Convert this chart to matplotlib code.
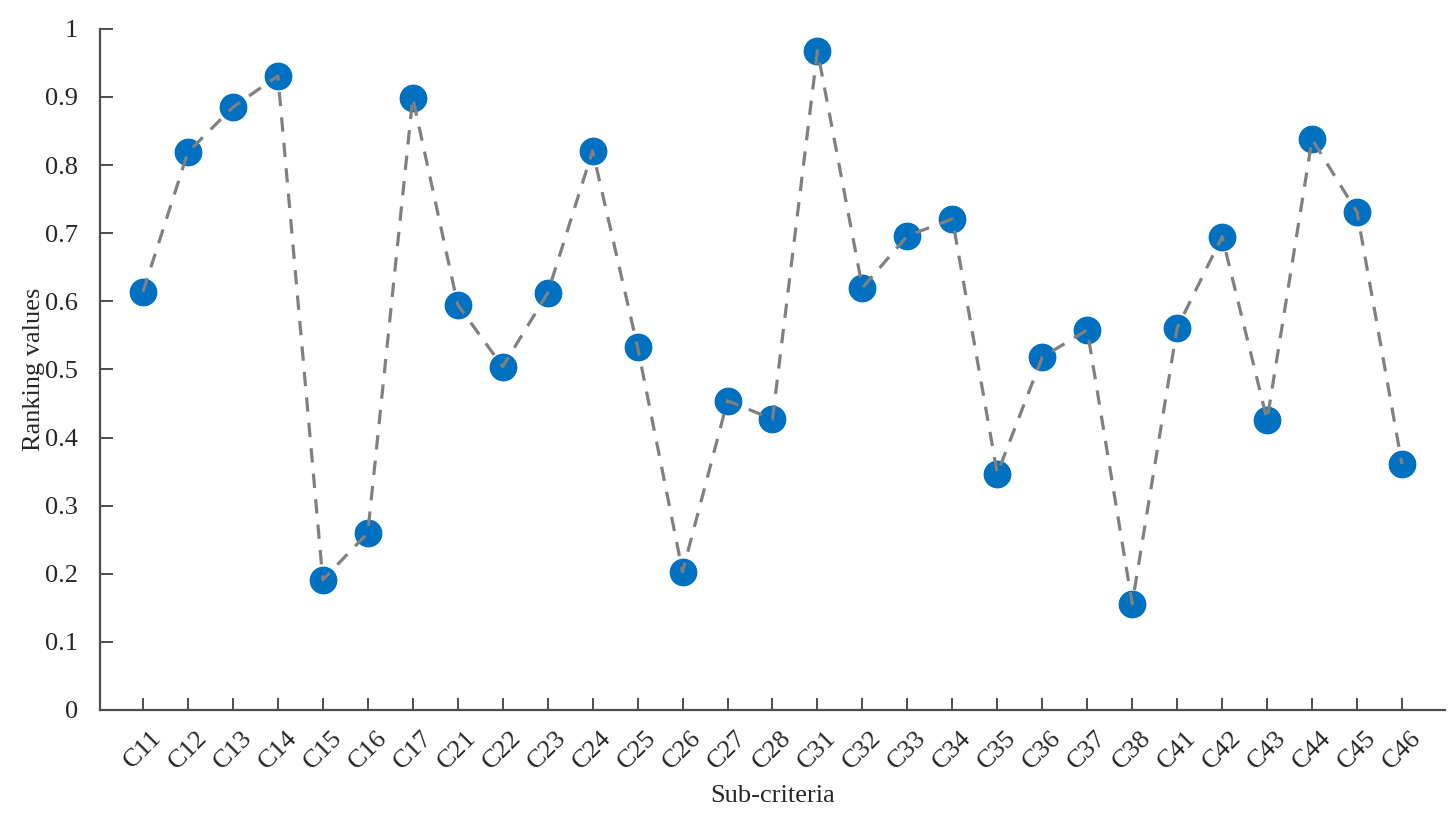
import matplotlib
matplotlib.use("Agg")
import matplotlib.pyplot as plt
import numpy as np

labels = ["C11", "C12", "C13", "C14", "C15", "C16", "C17",
          "C21", "C22", "C23", "C24", "C25", "C26", "C27", "C28",
          "C31", "C32", "C33", "C34", "C35", "C36", "C37", "C38",
          "C41", "C42", "C43", "C44", "C45", "C46"]
values = [0.614, 0.819, 0.885, 0.931, 0.191, 0.260, 0.899,
          0.595, 0.504, 0.612, 0.821, 0.533, 0.203, 0.454, 0.427,
          0.968, 0.620, 0.696, 0.721, 0.347, 0.518, 0.558, 0.156,
          0.561, 0.695, 0.426, 0.838, 0.731, 0.361]
yticks = [0, 0.1, 0.2, 0.3, 0.4, 0.5, 0.6, 0.7, 0.8, 0.9, 1]
ytick_labels = ["0", "0.1", "0.2", "0.3", "0.4", "0.5", "0.6", "0.7", "0.8", "0.9", "1"]

plt.rcParams["font.family"] = ["Liberation Serif", "DejaVu Serif"]
txt = "#262626"
axc = "#4d4d4d"

fig = plt.figure(figsize=(14.56, 8.25), dpi=100)
ax = fig.add_axes([0.0687, 0.1394, 0.9237, 0.8256])

x = np.arange(1, len(labels) + 1)
ax.plot(x, values, "o", ms=19, color="#0070C0", zorder=2)
ax.plot(x, values, "--", lw=2.3, color="#808080", dashes=(4.5, 3.5), zorder=3)

ax.set_xlim(0.045, len(labels) + 0.955)
ax.set_ylim(0, 1)
ax.set_xticks(x)
ax.set_xticklabels(labels, rotation=45, ha="center", va="top")
ax.set_yticks(yticks)
ax.set_yticklabels(ytick_labels)

for s in ["top", "right"]:
    ax.spines[s].set_visible(False)
for s in ["left", "bottom"]:
    ax.spines[s].set_color(axc)
    ax.spines[s].set_linewidth(1.6)
ax.tick_params(direction="in", length=9, width=1.4, color=axc,
               labelsize=19, labelcolor=txt)
ax.tick_params(axis="y", pad=16)
ax.tick_params(axis="x", pad=12)

ax.set_xlabel("Sub-criteria", fontsize=19, color=txt, labelpad=8)
ax.set_ylabel("Ranking values", fontsize=19, color=txt, labelpad=0)

fig.savefig("out.png", dpi=100)
